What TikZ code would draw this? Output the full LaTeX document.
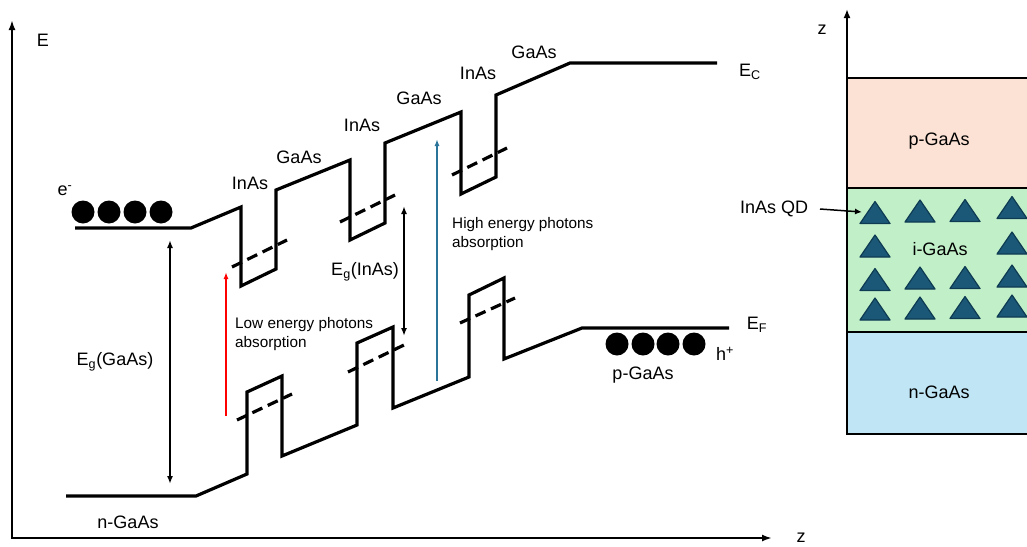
\documentclass[tikz,border=0pt]{standalone}
\usepackage{fontspec}
\setmainfont{Liberation Sans}
\usetikzlibrary{arrows.meta}
\definecolor{pfill}{HTML}{FBE2D5}
\definecolor{ifill}{HTML}{C1F0C8}
\definecolor{nfill}{HTML}{C0E6F5}
\definecolor{qdfill}{HTML}{1B5878}
\definecolor{qdline}{HTML}{0E3A52}
\definecolor{hiblue}{HTML}{2A7499}
\newcommand\qdtri[2]{\filldraw[qd] (#1-15,#2+11) -- (#1,#2-11) -- (#1+15,#2+11) -- cycle;}
\begin{document}
\begin{tikzpicture}[x=1pt,y=-1pt,
  band/.style={line width=3.2pt, line join=miter},
  level/.style={line width=3.2pt, dash pattern=on 11pt off 6pt},
  gap/.style={line width=1.9pt, {Latex[length=8pt,width=6pt]}-{Latex[length=8pt,width=6pt]}},
  lbl/.style={font={\fontsize{18}{21}\selectfont}, inner sep=0pt},
  small/.style={font={\fontsize{15.3}{19}\selectfont}, inner sep=0pt, align=left},
  carrier/.style={fill=black, circle, minimum size=23pt, inner sep=0pt},
  layer/.style={draw=black, line width=1.5pt},
  qd/.style={fill=qdfill, draw=qdline, line width=1.2pt, line join=round}
]
\useasboundingbox (0,0) rectangle (1027,546);

% axes of the band diagram
\coordinate (Etop) at (12,20);
\coordinate (orig) at (12,538);
\coordinate (zend) at (772,538);
\draw[line width=2.5pt, line join=miter, {Latex[length=10pt,width=7pt]}-{Latex[length=10pt,width=7pt]}] (Etop) -- (orig) -- (zend);
\node[lbl] (Elab) at (43,40) {E};
\node[lbl] (zlab) at (801,538) {z};

% conduction band
\draw[band] (75,228) -- (191,228) -- (241,207) -- (241,286) -- (276,269) -- (276,190)
  -- (350,160) -- (350,240) -- (385,223) -- (385,143) -- (461,112) -- (461,194)
  -- (496,177) -- (496,95) -- (570,63) -- (717,63);
% valence band
\draw[band] (66,496) -- (196,496) -- (247,474) -- (247,392) -- (282,376) -- (282,456)
  -- (357,425) -- (357,343) -- (393,327) -- (393,408) -- (469,377) -- (469,295)
  -- (504,278) -- (504,359) -- (582,328) -- (729,328);

% confined levels
\draw[level] (232,267) -- (287,240);
\draw[level] (340,222) -- (395,195);
\draw[level] (452,175) -- (507,148);
\draw[level] (237,420) -- (292,394);
\draw[level] (348,372) -- (404,345);
\draw[level] (460,323) -- (515,298);

% gaps and transitions
\coordinate (gaTop) at (170,240);
\coordinate (gaBot) at (170,484);
\draw[gap] (gaTop) -- (gaBot);
\coordinate (inTop) at (404,206);
\coordinate (inBot) at (404,336);
\draw[gap] (inTop) -- (inBot);
\coordinate (redBot) at (226,416);
\coordinate (redTop) at (226,272);
\draw[line width=1.5pt, red, -{Latex[length=7pt,width=5pt]}] (redBot) -- (redTop);
\coordinate (bluBot) at (437,381);
\coordinate (bluTop) at (437,139);
\draw[line width=1.5pt, hiblue, -{Latex[length=7pt,width=5pt]}] (bluBot) -- (bluTop);

% layer labels along the conduction band
\node[lbl] (l1) at (250,183) {InAs};
\node[lbl] (l2) at (299,157) {GaAs};
\node[lbl] (l3) at (362,125) {InAs};
\node[lbl] (l4) at (419,98) {GaAs};
\node[lbl] (l5) at (478,73) {InAs};
\node[lbl] (l6) at (534,52) {GaAs};
\node[lbl] (EC) at (750,72) {E\textsubscript{C}};
\node[lbl] (EF) at (757,325) {E\textsubscript{F}};
\node[lbl] (EgGaAs) at (115,362) {E\textsubscript{g}(GaAs)};
\node[lbl] (EgInAs) at (365,272) {E\textsubscript{g}(InAs)};
\node[small, anchor=west] (hi) at (452,234) {High energy photons\\absorption};
\node[small, anchor=west] (lo) at (235,334) {Low energy photons\\absorption};
\node[lbl] (nG) at (128,522) {n-GaAs};
\node[lbl] (pG) at (643,375) {p-GaAs};

% carriers
\node[lbl] (elab) at (65,191) {e\textsuperscript{-}};
\node[carrier] (e1) at (83,212) {};
\node[carrier] (e2) at (109,212) {};
\node[carrier] (e3) at (135,212) {};
\node[carrier] (e4) at (161,212) {};
\node[lbl] (hlab) at (725,354) {h\textsuperscript{+}};
\node[carrier] (h1) at (617,344) {};
\node[carrier] (h2) at (643,344) {};
\node[carrier] (h3) at (668,344) {};
\node[carrier] (h4) at (694,344) {};

% right panel: layer stack
\draw[layer, fill=pfill] (847,78) rectangle (1032,188);
\draw[layer, fill=ifill] (847,188) rectangle (1032,332);
\draw[layer, fill=nfill] (847,332) rectangle (1032,434);
\coordinate (zb) at (847,435);
\coordinate (zt) at (847,9);
\draw[line width=2.5pt, -{Latex[length=9pt,width=7pt]}] (zb) -- (zt);
\node[lbl] (z2) at (822,30) {z};
\node[lbl] (pL) at (939,141) {p-GaAs};
\node[lbl] (iL) at (940,249) {i-GaAs};
\node[lbl] (nL) at (939,392) {n-GaAs};

\qdtri{875}{212.5}\qdtri{920}{211}\qdtri{965}{210.5}\qdtri{1012}{207.5}
\qdtri{875}{246}\qdtri{1012}{243}
\qdtri{875}{279.5}\qdtri{920}{278}\qdtri{965}{277.5}\qdtri{1012}{276}
\qdtri{875}{309}\qdtri{920}{308}\qdtri{965}{307.5}\qdtri{1012}{306}

\node[lbl] (qdlab) at (774,209) {InAs QD};
\coordinate (qdS) at (820,209);
\coordinate (qdT) at (862,212);
\draw[line width=1.5pt, -{Latex[length=7pt,width=6pt]}] (qdS) -- (qdT);
\end{tikzpicture}
\end{document}
